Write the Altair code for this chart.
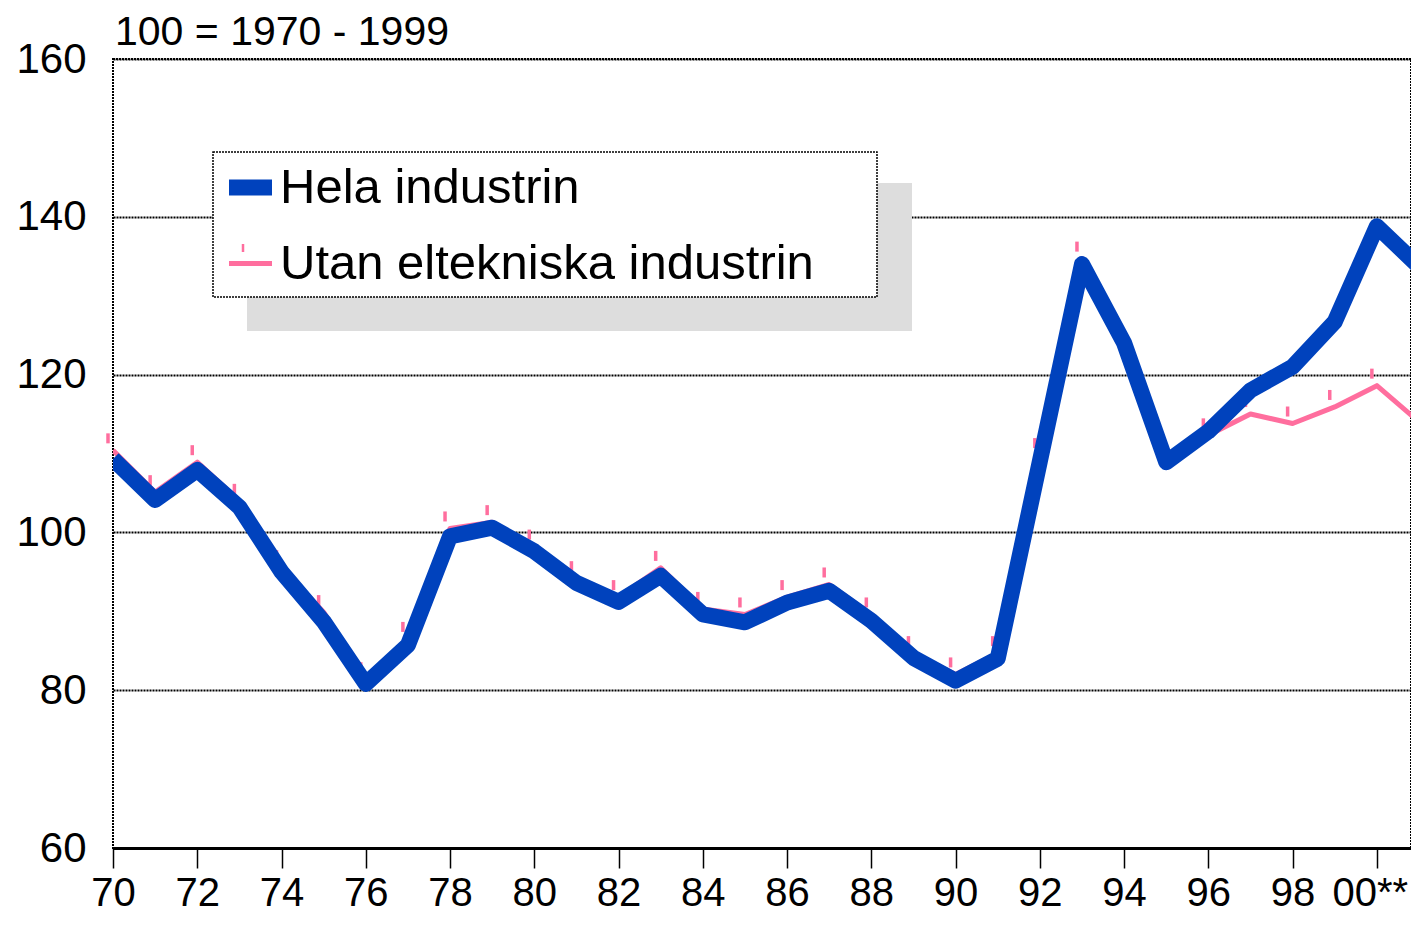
import altair as alt
import pandas as pd

FONT = "Liberation Sans"
BLUE = "#0042BD"
PINK = "#FF6E9E"

years = list(range(1970, 2002))
names = ["Hela industrin", "Utan eltekniska industrin"]
hela = [109.3, 104.1, 107.9, 103.2, 95.0, 88.7, 80.8, 85.7, 99.5, 100.6,
        97.6, 93.6, 91.2, 94.5, 89.6, 88.6, 91.1, 92.6, 88.8, 84.1,
        81.2, 84.0, 109.0, 134.0, 124.0, 108.9, 112.8, 118.0, 121.0, 126.7,
        138.8, 133.7]
utan = [110.4, 105.1, 108.9, 104.0, 95.6, 89.9, 81.4, 86.5, 100.5, 101.3,
        98.2, 94.2, 91.8, 95.5, 90.3, 89.6, 91.8, 93.4, 89.6, 84.7,
        82.0, 84.7, 109.8, 134.7, 124.5, 109.4, 112.3, 115.0, 113.8, 115.9,
        118.6, 114.0]
x_ticks = list(range(1970, 2001, 2))
y_ticks = [60, 80, 100, 120, 140, 160]
title_text = "100 = 1970 - 1999"

df = pd.DataFrame({
    "year": years * 2,
    "value": hela + utan,
    "series": [names[0]] * len(years) + [names[1]] * len(years),
})

col_scale = alt.Scale(domain=names, range=[BLUE, PINK])
sw_scale = alt.Scale(domain=names, range=[16, 5])
leg = alt.Legend(title=None, orient="none", legendX=108, legendY=99,
                 symbolType="stroke", symbolSize=1849, labelFontSize=49,
                 labelFont=FONT, labelColor="black", rowPadding=19,
                 labelOffset=0, labelLimit=1000, padding=0)

x_enc = alt.X("year:Q",
              scale=alt.Scale(domain=[1970, 2000.81], nice=False, zero=False),
              axis=alt.Axis(values=x_ticks, title=None, grid=False,
                            labelExpr="datum.value == 2000 ? '00**' : substring(toString(datum.value), 2, 4)",
                            labelFlush=False, labelOverlap=False,
                            labelOffset={"condition": {"test": "datum.value == 2000", "value": -7}, "value": 0},
                            labelFontSize=40, labelFont=FONT, labelColor="black",
                            labelBaseline="alphabetic",
                            labelPadding=37, tickSize=20, tickColor="black",
                            tickWidth=1.5, domainColor="black", domainWidth=3))
y_enc = alt.Y("value:Q",
              scale=alt.Scale(domain=[60, 160], nice=False, zero=False),
              axis=alt.Axis(values=y_ticks, title=None, grid=True,
                            gridColor="black", gridDash=[2, 1], gridWidth=2,
                            ticks=False, domain=False, labelFlush=False,
                            labelFontSize=42, labelFont=FONT, labelColor="black",
                            labelPadding=27))

base = alt.Chart(df)
one = pd.DataFrame({"k": [0]})

title_mark = alt.Chart(one).mark_text(
    align="left", baseline="alphabetic", fontSize=41, font=FONT, color="black"
).encode(x=alt.value(2), y=alt.value(-14), text=alt.value(title_text))

shadow = alt.Chart(one).mark_rect(color="#DDDDDD").encode(
    x=alt.value(134), x2=alt.value(799), y=alt.value(124), y2=alt.value(272))
box = alt.Chart(one).mark_rect(fill="white", stroke="black", strokeDash=[2, 1],
                               strokeWidth=1.5).encode(
    x=alt.value(100), x2=alt.value(764), y=alt.value(93), y2=alt.value(238))

pink_line = base.transform_filter(alt.datum.series == names[1]).mark_line(
    clip=True, strokeJoin="round").encode(
    x=x_enc, y=y_enc,
    color=alt.Color("series:N", scale=col_scale, legend=leg),
    strokeWidth=alt.StrokeWidth("series:N", scale=sw_scale, legend=leg))
pink_ticks = base.transform_filter(
    (alt.datum.series == names[1]) & (alt.datum.year <= 2000.9)).mark_tick(
    orient="vertical", size=10, thickness=3.5, color=PINK, opacity=1,
    yOffset=-12, xOffset=-5).encode(x="year:Q", y="value:Q")
blue_line = base.transform_filter(alt.datum.series == names[0]).mark_line(
    clip=True, strokeJoin="round").encode(
    x=x_enc, y=y_enc,
    color=alt.Color("series:N", scale=col_scale, legend=leg),
    strokeWidth=alt.StrokeWidth("series:N", scale=sw_scale, legend=leg))
leg_marker = alt.Chart(one).mark_rule(color=PINK, strokeWidth=2.5).encode(
    x=alt.value(130), y=alt.value(185), y2=alt.value(193))

chart = alt.layer(shadow, box, pink_line, pink_ticks, blue_line, leg_marker,
                  title_mark).properties(
    width=1298, height=789,
    autosize=alt.AutoSizeParams(type="none"),
    padding={"left": 105, "top": 51, "right": 0, "bottom": 66},
).configure(font=FONT).configure_view(
    stroke="black", strokeDash=[2, 1], strokeWidth=2
)

chart.save("out.html", embed_options={"renderer": "svg", "actions": False})
